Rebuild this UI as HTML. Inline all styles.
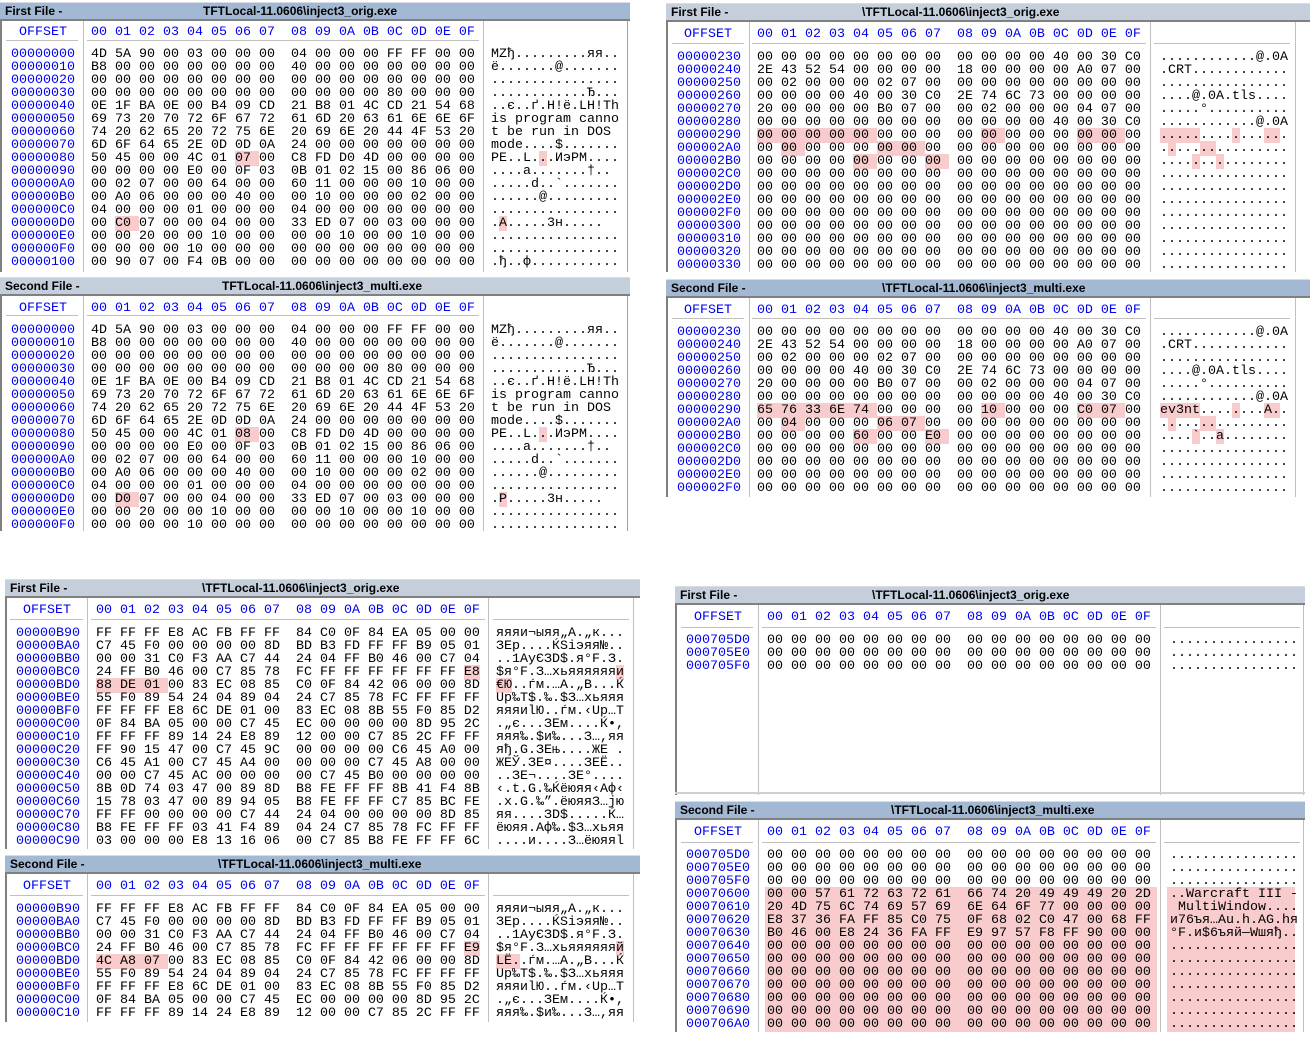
<!DOCTYPE html>
<html><head><meta charset="utf-8">
<style>
body{margin:0;width:1315px;height:1044px;background:#fff;position:relative;overflow:hidden}
.c{position:absolute;background:#fff;overflow:hidden}
.tb{position:absolute;left:0;top:0;right:0;height:16px;background:#a3b9d3;font:bold 12px "Liberation Sans",sans-serif;color:#000;line-height:16px;padding-left:5px;border-top:1px solid #d8dde4}
.tb.l{background:#c4cfdb}
.tb span{position:absolute;top:0}
.bd{position:absolute;left:0;top:17px;right:0;bottom:0;border-top:2px solid #808080;border-left:2px solid #808080}
.v{position:absolute;width:1px;background:#c0c0c0}
.hl{position:absolute;height:1px;background:#c0c0c0}
pre{position:absolute;margin:0;font:13.33px "Liberation Mono","DejaVu Sans Mono",monospace;line-height:13px;color:#000;white-space:pre;transform:translateY(3px)}
pre.b{color:#0000ee}
.h{background:#f8cccc}
.pk{position:absolute;background:#f8cccc}
</style></head><body>

<!-- P1 first -->
<div class="c" style="left:0;top:2px;width:630px;height:270px">
<div class="tb">First File -<span style="left:203px">TFTLocal-11.0606\inject3_orig.exe</span></div>
<div class="bd"></div>
<div class="v" style="left:83px;top:19px;height:251px"></div>
<div class="v" style="left:483px;top:19px;height:251px"></div>
<div class="v" style="left:627px;top:19px;height:251px;background:#a0a0a0"></div>
<div class="hl" style="left:6px;width:72px;top:38px"></div>
<div class="hl" style="left:87px;width:392px;top:38px"></div>
<pre class="b" style="left:19px;top:21px">OFFSET</pre>
<pre class="b" style="left:91px;top:21px">00 01 02 03 04 05 06 07  08 09 0A 0B 0C 0D 0E 0F</pre>
<pre class="b" style="left:11px;top:43px">00000000
00000010
00000020
00000030
00000040
00000050
00000060
00000070
00000080
00000090
000000A0
000000B0
000000C0
000000D0
000000E0
000000F0
00000100</pre>
<pre style="left:91px;top:43px">4D 5A 90 00 03 00 00 00  04 00 00 00 FF FF 00 00
B8 00 00 00 00 00 00 00  40 00 00 00 00 00 00 00
00 00 00 00 00 00 00 00  00 00 00 00 00 00 00 00
00 00 00 00 00 00 00 00  00 00 00 00 80 00 00 00
0E 1F BA 0E 00 B4 09 CD  21 B8 01 4C CD 21 54 68
69 73 20 70 72 6F 67 72  61 6D 20 63 61 6E 6E 6F
74 20 62 65 20 72 75 6E  20 69 6E 20 44 4F 53 20
6D 6F 64 65 2E 0D 0D 0A  24 00 00 00 00 00 00 00
50 45 00 00 4C 01 <span class="h">07 </span>00  C8 FD D0 4D 00 00 00 00
00 00 00 00 E0 00 0F 03  0B 01 02 15 00 86 06 00
00 02 07 00 00 64 00 00  60 11 00 00 00 10 00 00
00 A0 06 00 00 00 40 00  00 10 00 00 00 02 00 00
04 00 00 00 01 00 00 00  04 00 00 00 00 00 00 00
00 <span class="h">C0 </span>07 00 00 04 00 00  33 ED 07 00 03 00 00 00
00 00 20 00 00 10 00 00  00 00 10 00 00 10 00 00
00 00 00 00 10 00 00 00  00 00 00 00 00 00 00 00
00 90 07 00 F4 0B 00 00  00 00 00 00 00 00 00 00</pre>
<pre style="left:491px;top:43px">MZђ.........яя..
ё.......@.......
................
............Ђ...
..є..ґ.Н!ё.LН!Th
is program canno
t be run in DOS 
mode....$.......
PE..L.<span class="h">.</span>.ИэРM....
....а.......†..
.....d..`.......
......@.........
................
.<span class="h">А</span>.....3н.....
................
................
.ђ..ф...........</pre>
</div>

<!-- P1 second -->
<div class="c" style="left:0;top:277px;width:630px;height:254px">
<div class="tb l">Second File -<span style="left:222px">TFTLocal-11.0606\inject3_multi.exe</span></div>
<div class="bd"></div>
<div class="v" style="left:83px;top:19px;height:235px"></div>
<div class="v" style="left:483px;top:19px;height:235px"></div>
<div class="v" style="left:627px;top:19px;height:235px;background:#a0a0a0"></div>
<div class="hl" style="left:6px;width:72px;top:38px"></div>
<div class="hl" style="left:87px;width:392px;top:38px"></div>
<pre class="b" style="left:19px;top:22px">OFFSET</pre>
<pre class="b" style="left:91px;top:22px">00 01 02 03 04 05 06 07  08 09 0A 0B 0C 0D 0E 0F</pre>
<pre class="b" style="left:11px;top:44px">00000000
00000010
00000020
00000030
00000040
00000050
00000060
00000070
00000080
00000090
000000A0
000000B0
000000C0
000000D0
000000E0
000000F0</pre>
<pre style="left:91px;top:44px">4D 5A 90 00 03 00 00 00  04 00 00 00 FF FF 00 00
B8 00 00 00 00 00 00 00  40 00 00 00 00 00 00 00
00 00 00 00 00 00 00 00  00 00 00 00 00 00 00 00
00 00 00 00 00 00 00 00  00 00 00 00 80 00 00 00
0E 1F BA 0E 00 B4 09 CD  21 B8 01 4C CD 21 54 68
69 73 20 70 72 6F 67 72  61 6D 20 63 61 6E 6E 6F
74 20 62 65 20 72 75 6E  20 69 6E 20 44 4F 53 20
6D 6F 64 65 2E 0D 0D 0A  24 00 00 00 00 00 00 00
50 45 00 00 4C 01 <span class="h">08 </span>00  C8 FD D0 4D 00 00 00 00
00 00 00 00 E0 00 0F 03  0B 01 02 15 00 86 06 00
00 02 07 00 00 64 00 00  60 11 00 00 00 10 00 00
00 A0 06 00 00 00 40 00  00 10 00 00 00 02 00 00
04 00 00 00 01 00 00 00  04 00 00 00 00 00 00 00
00 <span class="h">D0 </span>07 00 00 04 00 00  33 ED 07 00 03 00 00 00
00 00 20 00 00 10 00 00  00 00 10 00 00 10 00 00
00 00 00 00 10 00 00 00  00 00 00 00 00 00 00 00</pre>
<pre style="left:491px;top:44px">MZђ.........яя..
ё.......@.......
................
............Ђ...
..є..ґ.Н!ё.LН!Th
is program canno
t be run in DOS 
mode....$.......
PE..L.<span class="h">.</span>.ИэРM....
....а.......†..
.....d..`.......
......@.........
................
.<span class="h">Р</span>.....3н.....
................
................</pre>
</div>

<!-- P2 first -->
<div class="c" style="left:666px;top:3px;width:644px;height:269px">
<div class="tb l">First File -<span style="left:196px">\TFTLocal-11.0606\inject3_orig.exe</span></div>
<div class="bd"></div>
<div class="v" style="left:83px;top:19px;height:250px"></div>
<div class="v" style="left:484px;top:19px;height:250px"></div>
<div class="v" style="left:629px;top:19px;height:250px"></div>
<div class="hl" style="left:6px;width:72px;top:40px"></div>
<div class="hl" style="left:86px;width:394px;top:40px"></div>
<div class="hl" style="left:488px;width:136px;top:40px"></div>
<pre class="b" style="left:18px;top:22px">OFFSET</pre>
<pre class="b" style="left:91px;top:22px">00 01 02 03 04 05 06 07  08 09 0A 0B 0C 0D 0E 0F</pre>
<pre class="b" style="left:11px;top:45px">00000230
00000240
00000250
00000260
00000270
00000280
00000290
000002A0
000002B0
000002C0
000002D0
000002E0
000002F0
00000300
00000310
00000320
00000330</pre>
<pre style="left:91px;top:45px">00 00 00 00 00 00 00 00  00 00 00 00 40 00 30 C0
2E 43 52 54 00 00 00 00  18 00 00 00 00 A0 07 00
00 02 00 00 00 02 07 00  00 00 00 00 00 00 00 00
00 00 00 00 40 00 30 C0  2E 74 6C 73 00 00 00 00
20 00 00 00 00 B0 07 00  00 02 00 00 00 04 07 00
00 00 00 00 00 00 00 00  00 00 00 00 40 00 30 C0
<span class="h">00 00 00 00 00 </span>00 00 00  00 <span class="h">00 </span>00 00 00 <span class="h">00 00 </span>00
00 <span class="h">00 </span>00 00 00 <span class="h">00 00 </span>00  00 00 00 00 00 00 00 00
00 00 00 00 <span class="h">00 </span>00 00 <span class="h">00 </span> 00 00 00 00 00 00 00 00
00 00 00 00 00 00 00 00  00 00 00 00 00 00 00 00
00 00 00 00 00 00 00 00  00 00 00 00 00 00 00 00
00 00 00 00 00 00 00 00  00 00 00 00 00 00 00 00
00 00 00 00 00 00 00 00  00 00 00 00 00 00 00 00
00 00 00 00 00 00 00 00  00 00 00 00 00 00 00 00
00 00 00 00 00 00 00 00  00 00 00 00 00 00 00 00
00 00 00 00 00 00 00 00  00 00 00 00 00 00 00 00
00 00 00 00 00 00 00 00  00 00 00 00 00 00 00 00</pre>
<pre style="left:494px;top:45px">............@.0А
.CRT............
................
....@.0А.tls....
.....°..........
............@.0А
<span class="h">.....</span>....<span class="h">.</span>...<span class="h">..</span>.
.<span class="h">.</span>...<span class="h">..</span>.........
....<span class="h">.</span>..<span class="h">.</span>........
................
................
................
................
................
................
................
................</pre>
</div>

<!-- P2 second -->
<div class="c" style="left:666px;top:279px;width:644px;height:218px">
<div class="tb">Second File -<span style="left:216px">\TFTLocal-11.0606\inject3_multi.exe</span></div>
<div class="bd"></div>
<div class="v" style="left:83px;top:19px;height:199px"></div>
<div class="v" style="left:484px;top:19px;height:199px"></div>
<div class="v" style="left:629px;top:19px;height:199px"></div>
<div class="hl" style="left:6px;width:72px;top:39px"></div>
<div class="hl" style="left:86px;width:394px;top:39px"></div>
<div class="hl" style="left:488px;width:136px;top:39px"></div>
<pre class="b" style="left:18px;top:22px">OFFSET</pre>
<pre class="b" style="left:91px;top:22px">00 01 02 03 04 05 06 07  08 09 0A 0B 0C 0D 0E 0F</pre>
<pre class="b" style="left:11px;top:44px">00000230
00000240
00000250
00000260
00000270
00000280
00000290
000002A0
000002B0
000002C0
000002D0
000002E0
000002F0</pre>
<pre style="left:91px;top:44px">00 00 00 00 00 00 00 00  00 00 00 00 40 00 30 C0
2E 43 52 54 00 00 00 00  18 00 00 00 00 A0 07 00
00 02 00 00 00 02 07 00  00 00 00 00 00 00 00 00
00 00 00 00 40 00 30 C0  2E 74 6C 73 00 00 00 00
20 00 00 00 00 B0 07 00  00 02 00 00 00 04 07 00
00 00 00 00 00 00 00 00  00 00 00 00 40 00 30 C0
<span class="h">65 76 33 6E 74 </span>00 00 00  00 <span class="h">10 </span>00 00 00 <span class="h">C0 07 </span>00
00 <span class="h">04 </span>00 00 00 <span class="h">06 07 </span>00  00 00 00 00 00 00 00 00
00 00 00 00 <span class="h">60 </span>00 00 <span class="h">E0 </span> 00 00 00 00 00 00 00 00
00 00 00 00 00 00 00 00  00 00 00 00 00 00 00 00
00 00 00 00 00 00 00 00  00 00 00 00 00 00 00 00
00 00 00 00 00 00 00 00  00 00 00 00 00 00 00 00
00 00 00 00 00 00 00 00  00 00 00 00 00 00 00 00</pre>
<pre style="left:494px;top:44px">............@.0А
.CRT............
................
....@.0А.tls....
.....°..........
............@.0А
<span class="h">ev3nt</span>....<span class="h">.</span>...<span class="h">А.</span>.
.<span class="h">.</span>...<span class="h">..</span>.........
....<span class="h">`</span>..<span class="h">а</span>........
................
................
................
................</pre>
</div>

<!-- P3 first -->
<div class="c" style="left:5px;top:579px;width:635px;height:270px">
<div class="tb l">First File -<span style="left:197px">\TFTLocal-11.0606\inject3_orig.exe</span></div>
<div class="bd"></div>
<div class="v" style="left:82px;top:19px;height:251px"></div>
<div class="v" style="left:483px;top:19px;height:251px"></div>
<div class="v" style="left:628px;top:19px;height:251px"></div>
<div class="hl" style="left:5px;width:73px;top:40px"></div>
<div class="hl" style="left:86px;width:394px;top:40px"></div>
<div class="hl" style="left:488px;width:136px;top:40px"></div>
<pre class="b" style="left:18px;top:22px">OFFSET</pre>
<pre class="b" style="left:91px;top:22px">00 01 02 03 04 05 06 07  08 09 0A 0B 0C 0D 0E 0F</pre>
<pre class="b" style="left:11px;top:45px">00000B90
00000BA0
00000BB0
00000BC0
00000BD0
00000BE0
00000BF0
00000C00
00000C10
00000C20
00000C30
00000C40
00000C50
00000C60
00000C70
00000C80
00000C90</pre>
<pre style="left:91px;top:45px">FF FF FF E8 AC FB FF FF  84 C0 0F 84 EA 05 00 00
C7 45 F0 00 00 00 00 8D  BD B3 FD FF FF B9 05 01
00 00 31 C0 F3 AA C7 44  24 04 FF B0 46 00 C7 04
24 FF B0 46 00 C7 85 78  FC FF FF FF FF FF FF <span class="h">E8</span>
<span class="h">88 DE 01 </span>00 83 EC 08 85  C0 0F 84 42 06 00 00 8D
55 F0 89 54 24 04 89 04  24 C7 85 78 FC FF FF FF
FF FF FF E8 6C DE 01 00  83 EC 08 8B 55 F0 85 D2
0F 84 BA 05 00 00 C7 45  EC 00 00 00 00 8D 95 2C
FF FF FF 89 14 24 E8 89  12 00 00 C7 85 2C FF FF
FF 90 15 47 00 C7 45 9C  00 00 00 00 C6 45 A0 00
C6 45 A1 00 C7 45 A4 00  00 00 00 C7 45 A8 00 00
00 00 C7 45 AC 00 00 00  00 C7 45 B0 00 00 00 00
8B 0D 74 03 47 00 89 8D  B8 FE FF FF 8B 41 F4 8B
15 78 03 47 00 89 94 05  B8 FE FF FF C7 85 BC FE
FF FF 00 00 00 00 C7 44  24 04 00 00 00 00 8D 85
B8 FE FF FF 03 41 F4 89  04 24 C7 85 78 FC FF FF
03 00 00 00 E8 13 16 06  00 C7 85 B8 FE FF FF 6C</pre>
<pre style="left:491px;top:45px">яяяи¬ыяя„А.„к...
ЗEр....ЌЅіэяя№..
..1АуЄЗD$.я°F.З.
$я°F.З…xьяяяяяя<span class="h">и</span>
<span class="h">€Ю</span>..ѓм.…А.„B...Ќ
Up‰T$.‰.$З…xьяяя
яяяиlЮ..ѓм.‹Uр…Т
.„є...ЗEм....Ќ•,
яяя‰.$и‰...З…,яя
яђ.G.ЗEњ....ЖE .
ЖEЎ.ЗE¤....ЗEЁ..
..ЗE¬....ЗE°....
‹.t.G.‰Ќёюяя‹Aф‹
.x.G.‰”.ёюяяЗ…јю
яя....ЗD$.....Ќ…
ёюяя.Aф‰.$З…xьяя
....и....З…ёюяяl</pre>
</div>

<!-- P3 second -->
<div class="c" style="left:5px;top:855px;width:635px;height:167px">
<div class="tb">Second File -<span style="left:213px">\TFTLocal-11.0606\inject3_multi.exe</span></div>
<div class="bd"></div>
<div class="v" style="left:82px;top:19px;height:148px"></div>
<div class="v" style="left:483px;top:19px;height:148px"></div>
<div class="v" style="left:628px;top:19px;height:148px"></div>
<div class="hl" style="left:5px;width:73px;top:40px"></div>
<div class="hl" style="left:86px;width:394px;top:40px"></div>
<div class="hl" style="left:488px;width:136px;top:40px"></div>
<pre class="b" style="left:18px;top:22px">OFFSET</pre>
<pre class="b" style="left:91px;top:22px">00 01 02 03 04 05 06 07  08 09 0A 0B 0C 0D 0E 0F</pre>
<pre class="b" style="left:11px;top:45px">00000B90
00000BA0
00000BB0
00000BC0
00000BD0
00000BE0
00000BF0
00000C00
00000C10</pre>
<pre style="left:91px;top:45px">FF FF FF E8 AC FB FF FF  84 C0 0F 84 EA 05 00 00
C7 45 F0 00 00 00 00 8D  BD B3 FD FF FF B9 05 01
00 00 31 C0 F3 AA C7 44  24 04 FF B0 46 00 C7 04
24 FF B0 46 00 C7 85 78  FC FF FF FF FF FF FF <span class="h">E9</span>
<span class="h">4C A8 07 </span>00 83 EC 08 85  C0 0F 84 42 06 00 00 8D
55 F0 89 54 24 04 89 04  24 C7 85 78 FC FF FF FF
FF FF FF E8 6C DE 01 00  83 EC 08 8B 55 F0 85 D2
0F 84 BA 05 00 00 C7 45  EC 00 00 00 00 8D 95 2C
FF FF FF 89 14 24 E8 89  12 00 00 C7 85 2C FF FF</pre>
<pre style="left:491px;top:45px">яяяи¬ыяя„А.„к...
ЗEр....ЌЅіэяя№..
..1АуЄЗD$.я°F.З.
$я°F.З…xьяяяяяя<span class="h">й</span>
<span class="h">LЁ.</span>.ѓм.…А.„B...Ќ
Up‰T$.‰.$З…xьяяя
яяяиlЮ..ѓм.‹Uр…Т
.„є...ЗEм....Ќ•,
яяя‰.$и‰...З…,яя</pre>
</div>

<!-- P4 first -->
<div class="c" style="left:675px;top:586px;width:630px;height:209px">
<div class="tb l">First File -<span style="left:197px">\TFTLocal-11.0606\inject3_orig.exe</span></div>
<div class="bd"></div>
<div class="v" style="left:83px;top:19px;height:190px"></div>
<div class="v" style="left:485px;top:19px;height:190px"></div>
<div class="v" style="left:628px;top:19px;height:190px"></div>
<div class="hl" style="left:6px;width:72px;top:41px"></div>
<div class="hl" style="left:87px;width:394px;top:41px"></div>
<div class="hl" style="left:489px;width:136px;top:41px"></div>
<div class="hl" style="left:0;width:630px;top:206px;background:#d0d0d0;height:2px"></div>
<pre class="b" style="left:19px;top:22px">OFFSET</pre>
<pre class="b" style="left:92px;top:22px">00 01 02 03 04 05 06 07  08 09 0A 0B 0C 0D 0E 0F</pre>
<pre class="b" style="left:11px;top:45px">000705D0
000705E0
000705F0</pre>
<pre style="left:92px;top:45px">00 00 00 00 00 00 00 00  00 00 00 00 00 00 00 00
00 00 00 00 00 00 00 00  00 00 00 00 00 00 00 00
00 00 00 00 00 00 00 00  00 00 00 00 00 00 00 00</pre>
<pre style="left:495px;top:45px">................
................
................</pre>
</div>

<!-- P4 second -->
<div class="c" style="left:675px;top:801px;width:630px;height:231px">
<div class="tb">Second File -<span style="left:216px">\TFTLocal-11.0606\inject3_multi.exe</span></div>
<div class="bd"></div>
<div class="v" style="left:83px;top:19px;height:212px"></div>
<div class="v" style="left:485px;top:19px;height:212px"></div>
<div class="v" style="left:628px;top:19px;height:212px"></div>
<div class="hl" style="left:6px;width:72px;top:41px"></div>
<div class="hl" style="left:87px;width:394px;top:41px"></div>
<div class="hl" style="left:489px;width:136px;top:41px"></div>
<div class="pk" style="left:90px;width:392px;top:86px;height:145px"></div>
<div class="pk" style="left:492px;width:128px;top:86px;height:145px"></div>
<pre class="b" style="left:19px;top:22px">OFFSET</pre>
<pre class="b" style="left:92px;top:22px">00 01 02 03 04 05 06 07  08 09 0A 0B 0C 0D 0E 0F</pre>
<pre class="b" style="left:11px;top:45px">000705D0
000705E0
000705F0
00070600
00070610
00070620
00070630
00070640
00070650
00070660
00070670
00070680
00070690
000706A0</pre>
<pre style="left:92px;top:45px">00 00 00 00 00 00 00 00  00 00 00 00 00 00 00 00
00 00 00 00 00 00 00 00  00 00 00 00 00 00 00 00
00 00 00 00 00 00 00 00  00 00 00 00 00 00 00 00
00 00 57 61 72 63 72 61  66 74 20 49 49 49 20 2D
20 4D 75 6C 74 69 57 69  6E 64 6F 77 00 00 00 00
E8 37 36 FA FF 85 C0 75  0F 68 02 C0 47 00 68 FF
B0 46 00 E8 24 36 FA FF  E9 97 57 F8 FF 90 00 00
00 00 00 00 00 00 00 00  00 00 00 00 00 00 00 00
00 00 00 00 00 00 00 00  00 00 00 00 00 00 00 00
00 00 00 00 00 00 00 00  00 00 00 00 00 00 00 00
00 00 00 00 00 00 00 00  00 00 00 00 00 00 00 00
00 00 00 00 00 00 00 00  00 00 00 00 00 00 00 00
00 00 00 00 00 00 00 00  00 00 00 00 00 00 00 00
00 00 00 00 00 00 00 00  00 00 00 00 00 00 00 00</pre>
<pre style="left:495px;top:45px">................
................
................
..Warcraft III -
 MultiWindow....
и76ъя…Аu.h.АG.hя
°F.и$6ъяй—Wшяђ..
................
................
................
................
................
................
................</pre>
</div>

</body></html>
